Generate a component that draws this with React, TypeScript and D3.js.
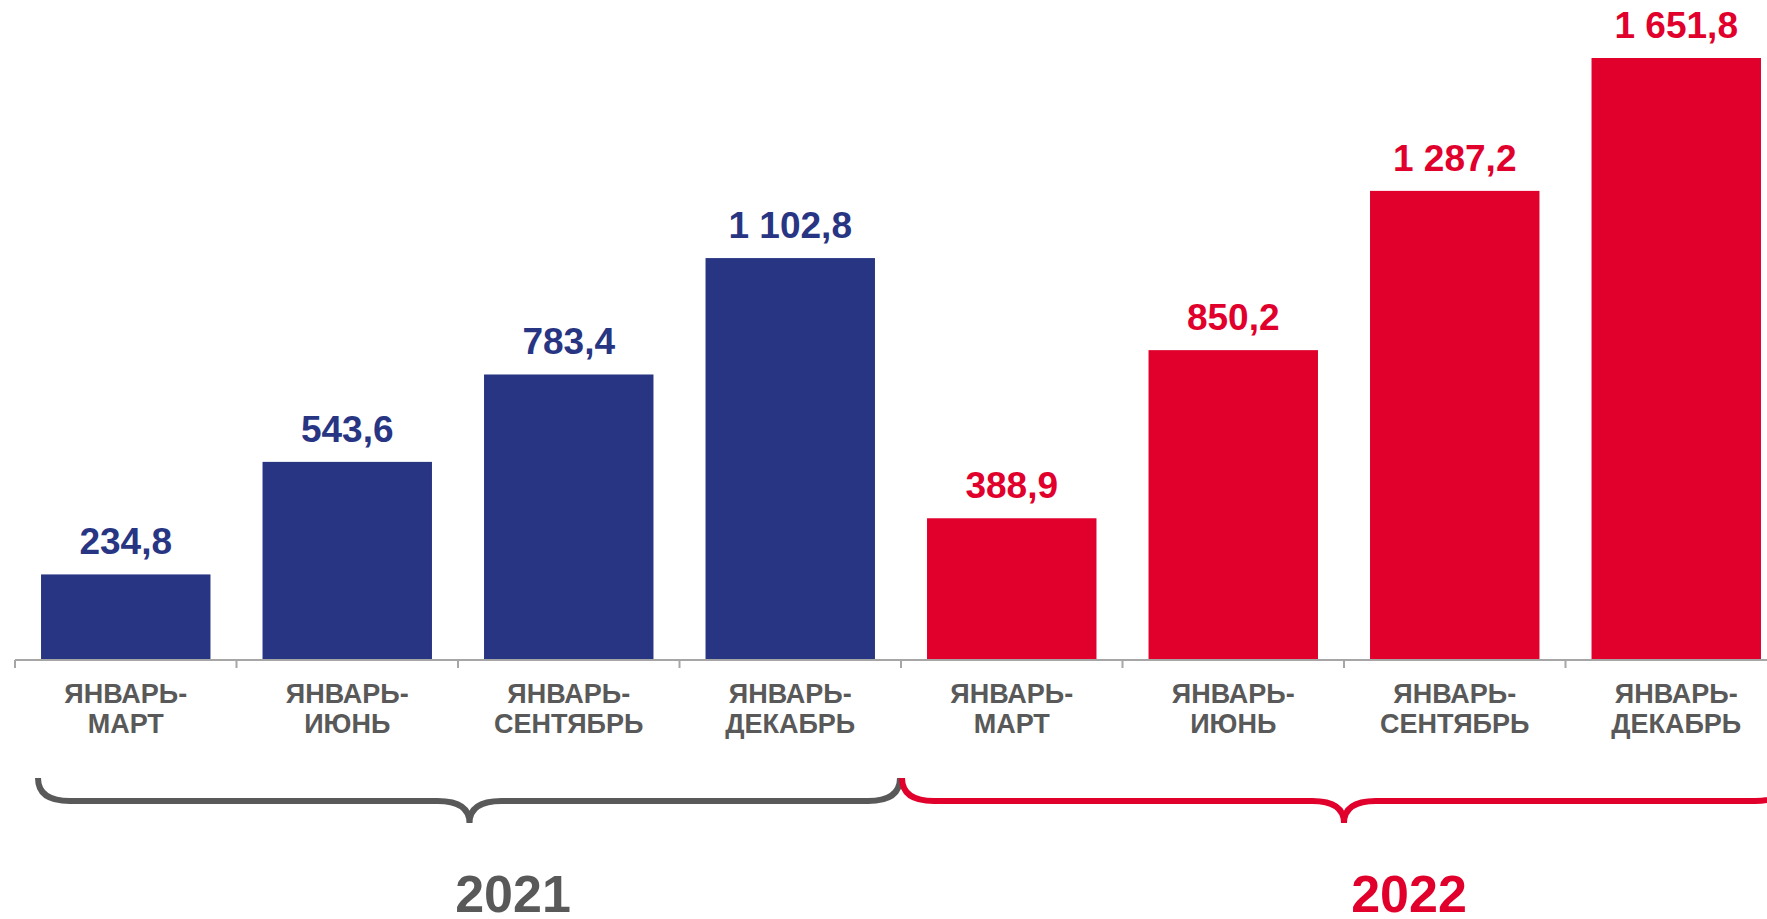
import React from "react";
import * as d3 from "d3";

const categoriesLine1 = ["ЯНВАРЬ-", "ЯНВАРЬ-", "ЯНВАРЬ-", "ЯНВАРЬ-", "ЯНВАРЬ-", "ЯНВАРЬ-", "ЯНВАРЬ-", "ЯНВАРЬ-"];
const categoriesLine2 = ["МАРТ", "ИЮНЬ", "СЕНТЯБРЬ", "ДЕКАБРЬ", "МАРТ", "ИЮНЬ", "СЕНТЯБРЬ", "ДЕКАБРЬ"];
const values = [234.8, 543.6, 783.4, 1102.8, 388.9, 850.2, 1287.2, 1651.8];
const valueLabels = ["234,8", "543,6", "783,4", "1 102,8", "388,9", "850,2", "1 287,2", "1 651,8"];
const yearOf = [0, 0, 0, 0, 1, 1, 1, 1];
const years = ["2021", "2022"];

const W = 1767;
const H = 919;
const BLUE = "#283583";
const RED = "#E1002C";
const GRAY = "#595959";
const AXIS = "#A6A6A6";
const FONT = "'Liberation Sans', Arial, sans-serif";

export default function App() {
  const baseY = 660;
  const x = d3
    .scaleBand<number>()
    .domain(values.map((_, i) => i))
    .range([15, 15 + 8 * 221.5])
    .paddingInner(0.235)
    .paddingOuter(0.1175);
  const y = d3.scaleLinear().domain([0, 1651.8]).range([baseY, 58]);
  const step = x.step();
  const bw = x.bandwidth();
  const boundary = (i: number) => (x(i) as number) - step * 0.1175;
  const colors = [BLUE, RED];

  const brace = (xa: number, xm: number, xb: number) => {
    const yTop = 778, yLine = 801, yTip = 823, r = 32;
    const p = d3.path();
    p.moveTo(xa, yTop);
    p.quadraticCurveTo(xa, yLine, xa + r, yLine);
    p.lineTo(xm - r, yLine);
    p.quadraticCurveTo(xm, yLine, xm, yTip);
    p.quadraticCurveTo(xm, yLine, xm + r, yLine);
    p.lineTo(xb - r, yLine);
    p.quadraticCurveTo(xb, yLine, xb, yTop);
    return p.toString();
  };

  const b0 = boundary(0);
  const b4 = boundary(4);
  const b8 = boundary(7) + step;

  return (
    <svg
      width={W}
      height={H}
      style={{ position: "absolute", left: 0, top: 0, background: "#fff" }}
      fontFamily={FONT}
    >
      {values.map((v, i) => (
        <g key={i}>
          <rect
            x={x(i)}
            y={y(v)}
            width={bw}
            height={baseY - y(v)}
            fill={colors[yearOf[i]]}
          />
          <text
            x={(x(i) as number) + bw / 2}
            y={y(v) - 20}
            textAnchor="middle"
            fontWeight="bold"
            fontSize={37}
            fill={colors[yearOf[i]]}
          >
            {valueLabels[i]}
          </text>
          <text
            x={(x(i) as number) + bw / 2}
            y={703}
            textAnchor="middle"
            fontWeight="bold"
            fontSize={27}
            fill={GRAY}
          >
            {categoriesLine1[i]}
          </text>
          <text
            x={(x(i) as number) + bw / 2}
            y={733}
            textAnchor="middle"
            fontWeight="bold"
            fontSize={27}
            fill={GRAY}
          >
            {categoriesLine2[i]}
          </text>
        </g>
      ))}
      <line x1={b0} x2={W + 30} y1={baseY} y2={baseY} stroke={AXIS} strokeWidth={2} />
      {d3.range(9).map((i) => (
        <line
          key={i}
          x1={b0 + i * step}
          x2={b0 + i * step}
          y1={baseY}
          y2={baseY + 8}
          stroke={AXIS}
          strokeWidth={2}
        />
      ))}
      <path d={brace(b0 + 23, (b0 + 23 + b4) / 2, b4 - 1)} fill="none" stroke={GRAY} strokeWidth={6} />
      <path d={brace(b4 + 1, (b4 + b8) / 2, b8)} fill="none" stroke={RED} strokeWidth={6} />
      <text x={513} y={912} textAnchor="middle" fontWeight="bold" fontSize={52} fill={GRAY}>
        {years[0]}
      </text>
      <text x={1409} y={912} textAnchor="middle" fontWeight="bold" fontSize={52} fill={RED}>
        {years[1]}
      </text>
    </svg>
  );
}
